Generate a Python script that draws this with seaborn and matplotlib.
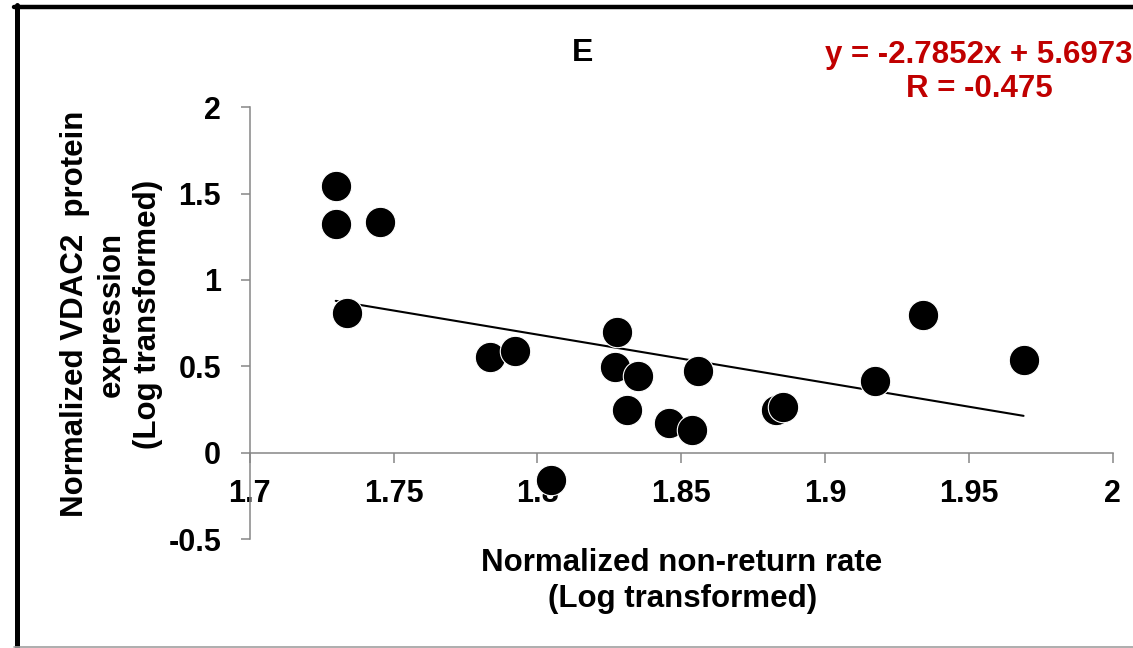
import numpy as np
import pandas as pd
import matplotlib
matplotlib.use("Agg")
import matplotlib.pyplot as plt
from matplotlib.lines import Line2D
import seaborn as sns

# values
non_return_rate = [1.7299, 1.7300, 1.7337, 1.7452, 1.7834, 1.7922, 1.8049, 1.8271,
                   1.8278, 1.8311, 1.8349, 1.8457, 1.8537, 1.8558, 1.8830, 1.8853,
                   1.9175, 1.9341, 1.9690]
vdac2_expr = [1.544, 1.324, 0.807, 1.338, 0.552, 0.587, -0.158, 0.494,
              0.697, 0.247, 0.444, 0.170, 0.131, 0.473, 0.247, 0.263,
              0.417, 0.797, 0.537]
slope = -2.7852
intercept = 5.6973
r_value = -0.475
x_ticks = [1.7, 1.75, 1.8, 1.85, 1.9, 1.95, 2]
x_tick_labels = ["1.7", "1.75", "1.8", "1.85", "1.9", "1.95", "2"]
y_ticks = [-0.5, 0, 0.5, 1, 1.5, 2]
y_tick_labels = ["-0.5", "0", "0.5", "1", "1.5", "2"]

df = pd.DataFrame({"rate": non_return_rate, "expr": vdac2_expr})

sns.set_style("white")
plt.rcParams["font.family"] = ["Liberation Sans", "DejaVu Sans"]
plt.rcParams["font.weight"] = "bold"
plt.rcParams["text.color"] = "black"
plt.rcParams["xtick.color"] = "black"
plt.rcParams["ytick.color"] = "black"

fig = plt.figure(figsize=(11.33, 6.48), dpi=100)
ax = fig.add_axes([0.2204, 0.1682, 0.7617, 0.6662])

sns.scatterplot(data=df, x="rate", y="expr", ax=ax, s=480, color="black",
                edgecolor="white", linewidth=0.8, zorder=5, clip_on=False)

# trend line from the equation shown in the chart
fit_x = np.array([df["rate"].min(), df["rate"].max()])
ax.plot(fit_x, slope * fit_x + intercept, color="black", lw=1.5, zorder=4)

ax.set_xlim(1.7, 2)
ax.set_ylim(-0.5, 2)
ax.set_xticks(x_ticks)
ax.set_xticklabels(x_tick_labels)
ax.set_yticks(y_ticks)
ax.set_yticklabels(y_tick_labels)
ax.set_xlabel("")
ax.set_ylabel("")

gray = "#868686"
for side in ["top", "right"]:
    ax.spines[side].set_visible(False)
ax.spines["bottom"].set_position(("data", 0))
for side in ["left", "bottom"]:
    ax.spines[side].set_color(gray)
    ax.spines[side].set_linewidth(1.1)
ax.tick_params(axis="x", direction="out", length=7, width=1.1, color=gray,
               labelcolor="black", pad=12, labelsize=22, bottom=True)
ax.tick_params(axis="y", direction="out", length=6.5, width=1.1, color=gray,
               labelcolor="black", pad=14, labelsize=22, left=True)
for lab in ax.get_xticklabels() + ax.get_yticklabels():
    lab.set_fontweight("bold")

fig.text(0.5146, 0.918, "E", ha="center", va="center", fontsize=23,
         fontweight="bold", color="black")
fig.text(0.864, 0.8895, f"y = {slope}x + {intercept}\nR = {r_value}",
         ha="center", va="center", multialignment="center", fontsize=22.5,
         fontweight="bold", color="#C00000", linespacing=1.17)
fig.text(0.602, 0.1034, "Normalized non-return rate\n(Log transformed)",
         ha="center", va="center", multialignment="center", fontsize=22.5,
         fontweight="bold", color="black", linespacing=1.25)
fig.text(0.0985, 0.515,
         "Normalized VDAC2  protein\nexpression\n(Log transformed)",
         ha="center", va="center", multialignment="center", rotation=90,
         fontsize=22.5, fontweight="bold", color="black", linespacing=1.27)

# outer frame (left/top black, bottom grey)
fig.add_artist(Line2D([16.5 / 1133, 16.5 / 1133], [0, 1 - 5 / 648],
                      transform=fig.transFigure, color="black", lw=3.6))
fig.add_artist(Line2D([14 / 1133, 1], [1 - 7 / 648, 1 - 7 / 648],
                      transform=fig.transFigure, color="black", lw=3.2))
fig.add_artist(Line2D([14 / 1133, 1], [1.5 / 648, 1.5 / 648],
                      transform=fig.transFigure, color="#A0A0A0", lw=1.2))

fig.savefig("out.png", dpi=100)
